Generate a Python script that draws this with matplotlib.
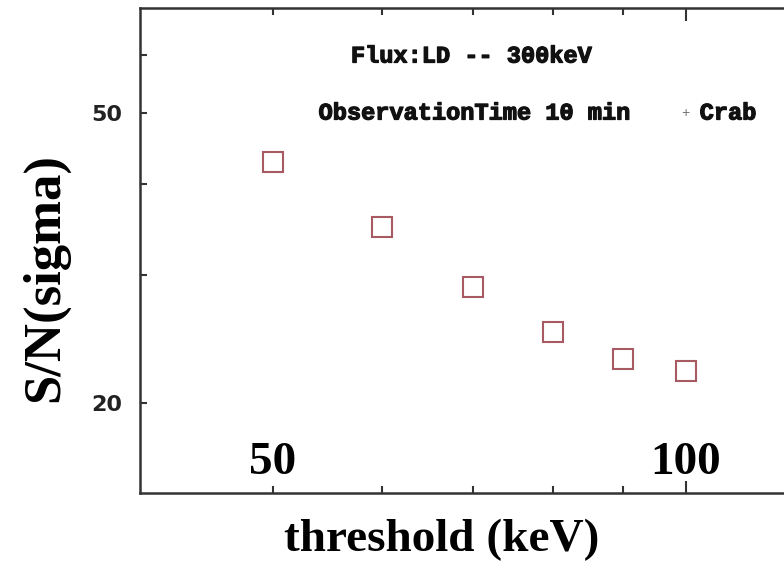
import matplotlib
matplotlib.use('Agg')
import matplotlib.pyplot as plt
import matplotlib.patheffects as pe
from matplotlib.ticker import FixedLocator, NullFormatter, FixedFormatter

# S/N against trigger threshold, Crab, 10 min observation
threshold_kev = [50, 60, 70, 80, 90, 100]
snr_sigma = [42.8, 34.9, 28.9, 25.0, 23.0, 22.1]

x_major = [100]
x_minor = [50, 60, 70, 80, 90]
x_marked = [50, 100]
y_labelled = [20, 50]
y_minor = [30, 40, 60]

SERIF = ['Liberation Serif', 'DejaVu Serif']
MONO = ['Liberation Mono', 'DejaVu Sans Mono']
AXIS_COLOR = '#333333'
MARKER_COLOR = '#a85a62'
# thicken the typewriter-style annotations a little
heavy = [pe.withStroke(linewidth=0.9, foreground='#111111')]

fig = plt.figure(figsize=(7.84, 5.64), dpi=100)
ax = fig.add_axes([140 / 784, 71 / 564, 660 / 784, 485 / 564])

ax.plot(threshold_kev, snr_sigma, linestyle='none', marker='s', markersize=14,
        markerfacecolor='none', markeredgecolor=MARKER_COLOR, markeredgewidth=1.5)

ax.set_xscale('log')
ax.set_yscale('log')
ax.set_xlim(40, 121.1)
ax.set_ylim(15.05, 69.7)

for side in ax.spines.values():
    side.set_color(AXIS_COLOR)
    side.set_linewidth(1.8)

# x ticks on both top and bottom, no labels on the axis itself
ax.xaxis.set_major_locator(FixedLocator(x_major))
ax.xaxis.set_minor_locator(FixedLocator(x_minor))
ax.xaxis.set_major_formatter(NullFormatter())
ax.xaxis.set_minor_formatter(NullFormatter())
ax.tick_params(axis='x', which='both', direction='in', top=True, bottom=True,
               color=AXIS_COLOR, width=1.5)
ax.tick_params(axis='x', which='major', length=9)
ax.tick_params(axis='x', which='minor', length=5)

ax.yaxis.set_major_locator(FixedLocator(y_labelled))
ax.yaxis.set_major_formatter(FixedFormatter([str(v) for v in y_labelled]))
ax.yaxis.set_minor_locator(FixedLocator(y_minor))
ax.yaxis.set_minor_formatter(NullFormatter())
ax.tick_params(axis='y', which='both', direction='in', left=True, right=False,
               color=AXIS_COLOR, width=1.5, length=5)
ax.tick_params(axis='y', which='major', pad=13, labelsize=16)
for lbl in ax.get_yticklabels():
    lbl.set_fontweight('bold')
    lbl.set_color('#222222')

# big threshold numbers sit inside the frame above the bottom axis
for xv in x_marked:
    ax.text(xv, 0.062, str(xv), transform=ax.get_xaxis_transform(),
            ha='center', va='center', family=SERIF, fontweight='bold',
            fontsize=34, color='black')

ax.text(0.5015, 0.901, 'Flux:LD -- 300keV', transform=ax.transAxes,
        ha='center', va='center', family=MONO, fontweight='bold', fontsize=17,
        color='#111111', path_effects=heavy)
ax.text(0.506, 0.7835, 'ObservationTime 10 min', transform=ax.transAxes,
        ha='center', va='center', family=MONO, fontweight='bold', fontsize=17,
        color='#111111', path_effects=heavy)
ax.text(0.826, 0.7835, '+', transform=ax.transAxes, ha='center', va='center',
        family=MONO, fontsize=10, color='#777777')
ax.text(0.848, 0.7835, 'Crab', transform=ax.transAxes, ha='left', va='center',
        family=MONO, fontweight='bold', fontsize=17, color='#111111',
        path_effects=heavy)

fig.text(45 / 784, 1 - 277 / 564, 'S/N(sigma)', rotation=90, ha='center',
         va='center', family=SERIF, fontweight='bold', fontsize=38)
fig.text(442 / 784, 1 - 540 / 564, 'threshold (keV)', ha='center', va='center',
         family=SERIF, fontweight='bold', fontsize=34)

fig.savefig('out.png', dpi=100)
